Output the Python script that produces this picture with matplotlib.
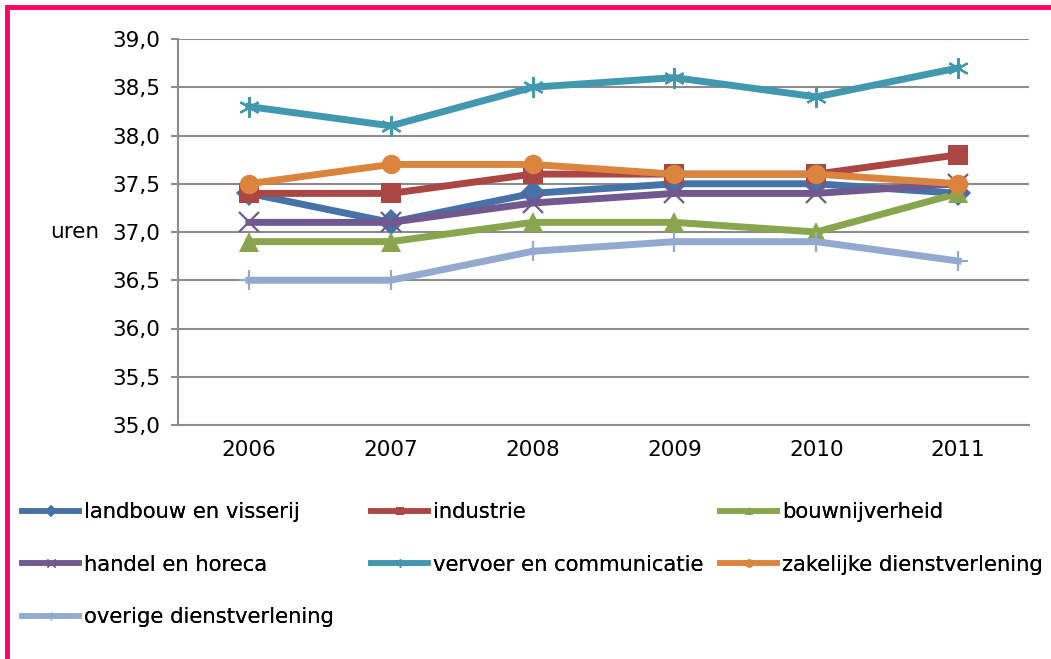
import matplotlib.pyplot as plt
from matplotlib.patches import Rectangle
from matplotlib.lines import Line2D

# data
years = ['2006', '2007', '2008', '2009', '2010', '2011']
landbouw = [37.4, 37.1, 37.4, 37.5, 37.5, 37.4]
industrie = [37.4, 37.4, 37.6, 37.6, 37.6, 37.8]
bouw = [36.9, 36.9, 37.1, 37.1, 37.0, 37.4]
handel = [37.1, 37.1, 37.3, 37.4, 37.4, 37.5]
vervoer = [38.3, 38.1, 38.5, 38.6, 38.4, 38.7]
zakelijk = [37.5, 37.7, 37.7, 37.6, 37.6, 37.5]
overige = [36.5, 36.5, 36.8, 36.9, 36.9, 36.7]

yticks = [35.0, 35.5, 36.0, 36.5, 37.0, 37.5, 38.0, 38.5, 39.0]

series = [
    ('landbouw en visserij', landbouw, '#4572A7', 'D', 13),
    ('industrie', industrie, '#AA4643', 's', 14),
    ('bouwnijverheid', bouw, '#89A54E', '^', 15),
    ('handel en horeca', handel, '#71588F', 'x', 14),
    ('vervoer en communicatie', vervoer, '#4198AF', (6, 2, 0), 15),
    ('zakelijke dienstverlening', zakelijk, '#DB843D', 'o', 14),
    ('overige dienstverlening', overige, '#93A9CF', '+', 15),
]

plt.rcParams['font.family'] = 'DejaVu Sans'
FS = 15.5
LFS = 15.2

W, H = 1051, 659
fig = plt.figure(figsize=(W / 100, H / 100), dpi=100)
ax = fig.add_axes([178 / W, 1 - 425 / H, (1029 - 178) / W, (425 - 39) / H])

x = list(range(len(years)))
handles = {}
for name, vals, col, mk, ms in series:
    thin = mk in ('x', '+', (6, 2, 0))
    ax.plot(x, vals, color=col, lw=5, marker=mk, markersize=ms,
            markeredgewidth=1.6 if thin else 0,
            markeredgecolor=col, solid_joinstyle='miter', zorder=3)
    handles[name] = Line2D([], [], color=col, lw=4, marker=mk, markersize=6,
                           markeredgewidth=1 if thin else 0,
                           markeredgecolor=col)

ax.set_xlim(-0.5, 5.5)
ax.set_ylim(35.0, 39.0)
ax.set_yticks(yticks)
ax.set_yticklabels([f'{v:.1f}'.replace('.', ',') for v in yticks])
ax.set_xticks(x)
ax.set_xticklabels(years)
ax.yaxis.grid(True, color='#8C8C8C', lw=1.5)
ax.set_axisbelow(True)
for s in ['top', 'right']:
    ax.spines[s].set_visible(False)
ax.spines['left'].set_color('#8C8C8C')
ax.spines['left'].set_linewidth(1.5)
ax.spines['bottom'].set_color('#8C8C8C')
ax.spines['bottom'].set_linewidth(1.5)
ax.tick_params(axis='y', length=5, width=1.5, color='#8C8C8C', labelsize=FS, pad=8)
ax.tick_params(axis='x', length=0, labelsize=FS, pad=11)

fig.text(50 / W, 1 - 232 / H, 'uren', fontsize=FS, va='center', ha='left')

# legend, laid out per column
cols = [
    (22, ['landbouw en visserij', 'handel en horeca', 'overige dienstverlening']),
    (371, ['industrie', 'vervoer en communicatie']),
    (720, ['bouwnijverheid', 'zakelijke dienstverlening']),
]
for xpix, names in cols:
    leg = fig.legend([handles[n] for n in names], names, loc='upper left',
                     bbox_to_anchor=(xpix / W, 1 - 502 / H), frameon=False,
                     fontsize=LFS, handlelength=2.7, handletextpad=0.22,
                     labelspacing=1.55, borderpad=0, borderaxespad=0)
    fig.add_artist(leg)

# pink frame
fig.add_artist(Rectangle((7 / W, -0.1), 1.2, 1 - 7 / H + 0.1, transform=fig.transFigure,
                         fill=False, edgecolor='#FF0066', lw=3.5))
fig.text(155 / W, 1 + 10 / H, 'van 2006 t/m 2011.', fontsize=FS, fontweight='bold',
         va='center', ha='left')

fig.savefig('out.png', dpi=100)
